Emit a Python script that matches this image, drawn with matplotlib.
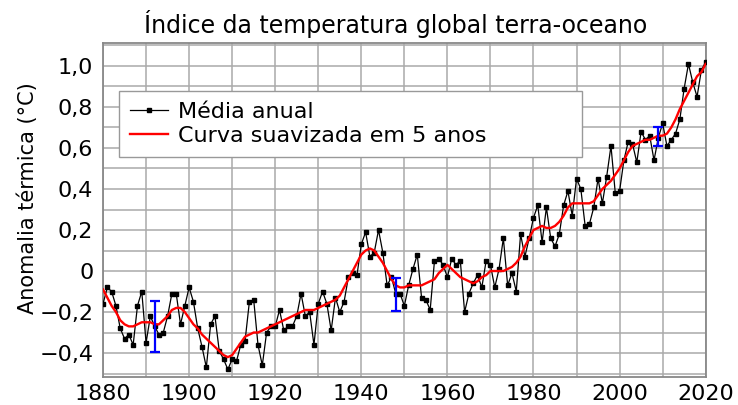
import numpy as np
import matplotlib
matplotlib.use("Agg")
import matplotlib.pyplot as plt
from matplotlib.ticker import MultipleLocator, FuncFormatter

years = np.arange(1880, 2021)

# anomalia anual (°C), base 1951-1980
annual = [
    -0.16, -0.08, -0.10, -0.17, -0.28, -0.33, -0.31, -0.36, -0.17, -0.10,
    -0.35, -0.22, -0.27, -0.31, -0.30, -0.22, -0.11, -0.11, -0.26, -0.17,
    -0.08, -0.15, -0.28, -0.37, -0.47, -0.26, -0.22, -0.39, -0.43, -0.48,
    -0.43, -0.44, -0.36, -0.34, -0.15, -0.14, -0.36, -0.46, -0.30, -0.27,
    -0.27, -0.19, -0.29, -0.27, -0.27, -0.22, -0.11, -0.22, -0.20, -0.36,
    -0.16, -0.10, -0.16, -0.29, -0.13, -0.20, -0.15, -0.03, -0.01, -0.02,
    0.13, 0.19, 0.07, 0.09, 0.20, 0.09, -0.07, -0.03, -0.11, -0.11,
    -0.17, -0.07, 0.01, 0.08, -0.13, -0.14, -0.19, 0.05, 0.06, 0.03,
    -0.03, 0.06, 0.03, 0.05, -0.20, -0.11, -0.06, -0.02, -0.08, 0.05,
    0.03, -0.08, 0.01, 0.16, -0.07, -0.01, -0.10, 0.18, 0.07, 0.16,
    0.26, 0.32, 0.14, 0.31, 0.16, 0.12, 0.18, 0.32, 0.39, 0.27,
    0.45, 0.40, 0.22, 0.23, 0.31, 0.45, 0.33, 0.46, 0.61, 0.38,
    0.39, 0.54, 0.63, 0.62, 0.53, 0.68, 0.64, 0.66, 0.54, 0.65,
    0.72, 0.61, 0.64, 0.67, 0.74, 0.89, 1.01, 0.92, 0.85, 0.98,
    1.02,
]

# curva suavizada (lowess 5 anos)
smooth = [
    -0.09, -0.13, -0.17, -0.20, -0.24, -0.26, -0.27, -0.27, -0.26, -0.25,
    -0.25, -0.25, -0.26, -0.26, -0.24, -0.22, -0.19, -0.18, -0.18, -0.20,
    -0.23, -0.26, -0.28, -0.31, -0.33, -0.35, -0.37, -0.39, -0.41, -0.42,
    -0.41, -0.38, -0.35, -0.32, -0.31, -0.30, -0.30, -0.29, -0.28, -0.27,
    -0.26, -0.25, -0.24, -0.23, -0.22, -0.21, -0.20, -0.19, -0.19, -0.19,
    -0.18, -0.17, -0.16, -0.15, -0.14, -0.12, -0.08, -0.04, 0.00, 0.04,
    0.08, 0.10, 0.11, 0.10, 0.07, 0.04, 0.00, -0.04, -0.07, -0.08,
    -0.08, -0.07, -0.07, -0.07, -0.07, -0.06, -0.05, -0.04, -0.01, 0.01,
    0.03, 0.01, -0.01, -0.03, -0.04, -0.05, -0.06, -0.05, -0.03, -0.02,
    0.00, 0.00, 0.00, 0.00, 0.01, 0.02, 0.04, 0.07, 0.12, 0.16,
    0.20, 0.21, 0.22, 0.21, 0.21, 0.22, 0.24, 0.27, 0.31, 0.33,
    0.33, 0.33, 0.33, 0.33, 0.34, 0.37, 0.40, 0.42, 0.44, 0.47,
    0.50, 0.54, 0.58, 0.61, 0.62, 0.63, 0.64, 0.64, 0.65, 0.66,
    0.66, 0.67, 0.70, 0.74, 0.79, 0.83, 0.87, 0.91, 0.95, 0.97,
    1.01,
]

# barras de incerteza
err_years = [1892, 1948, 2009]
err_center = [-0.27, -0.115, 0.655]
err_half = [0.123, 0.082, 0.046]

plt.rcParams["font.family"] = ["DejaVu Sans"]

fig = plt.figure(figsize=(7.38, 4.05), dpi=100)
ax = fig.add_axes([0.1396, 0.0691, 0.8166, 0.8247])

ax.plot(years, annual, color="black", lw=0.9, marker="s", ms=2.6,
        label="Média anual", zorder=3)
ax.plot(years, smooth, color="red", lw=1.7, label="Curva suavizada em 5 anos", zorder=4)
ax.errorbar(err_years, err_center, yerr=err_half, fmt="none", ecolor="blue",
            elinewidth=1.6, capsize=3.5, capthick=1.6, zorder=5)

ax.set_xlim(1880, 2020)
ax.set_ylim(-0.517, 1.112)
ax.xaxis.set_major_locator(MultipleLocator(20))
ax.xaxis.set_minor_locator(MultipleLocator(10))
ax.yaxis.set_major_locator(MultipleLocator(0.2))
ax.yaxis.set_minor_locator(MultipleLocator(0.1))


def fmt_y(v, pos):
    if abs(v) < 1e-9:
        return "0"
    s = "{:.1f}".format(abs(v)).replace(".", ",")
    return ("\u2212" + s) if v < 0 else s


ax.yaxis.set_major_formatter(FuncFormatter(fmt_y))
ax.grid(which="both", color="#aaaaaa", lw=1.1)
ax.set_axisbelow(True)
ax.tick_params(which="both", length=0, labelsize=16)
ax.tick_params(axis="x", pad=5)
ax.tick_params(axis="y", pad=7)
for sp in ax.spines.values():
    sp.set_color("#888888")
    sp.set_linewidth(1.3)

ax.set_title("Índice da temperatura global terra-oceano", fontsize=17, pad=7,
             x=0.485)
ax.set_ylabel("Anomalia térmica (°C)", fontsize=15)
ax.yaxis.set_label_coords(-0.108, 0.536)

leg = ax.legend(loc="upper left", bbox_to_anchor=(0.0265, 0.5, 0.768, 0.356),
                mode="expand", borderaxespad=0,
                fontsize=16, fancybox=False, framealpha=1, edgecolor="#999999",
                handlelength=1.7, handletextpad=0.45, borderpad=0.5,
                labelspacing=0.15, markerscale=0.9)
leg.get_frame().set_linewidth(1.0)

fig.savefig("out.png", dpi=100)
